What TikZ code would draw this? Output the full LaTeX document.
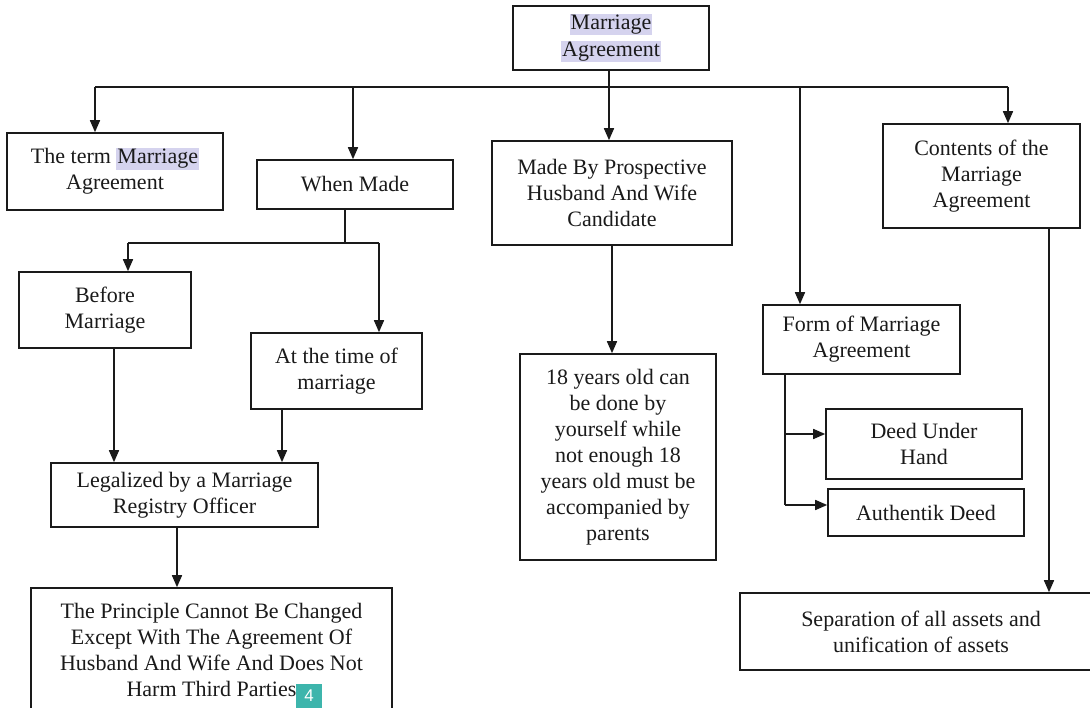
\documentclass[tikz,border=0pt]{standalone}
\usepackage{fontspec}
\setmainfont{Liberation Serif}
\usetikzlibrary{arrows.meta}
\definecolor{ink}{HTML}{1A1A1A}
\definecolor{hl}{HTML}{D5D3EE}
\definecolor{teal}{HTML}{3DB5AC}
\newcommand\hlt[1]{{\setlength{\fboxsep}{1pt}\colorbox{hl}{#1}}}
\begin{document}
\begin{tikzpicture}[x=1pt,y=-1pt,
  box/.style={draw=ink, line width=1.6pt, inner sep=0pt, align=center,
    text=ink, font=\fontsize{22}{26}\selectfont},
  line/.style={draw=ink, line width=1.6pt},
  arr/.style={line, -{Triangle[length=12pt,width=10pt]}}]
\useasboundingbox (0,0) rectangle (1090,708);
\fill[white] (0,0) rectangle (1090,708);
% nodes
\node[box, minimum width=196pt, minimum height=64pt] (root) at (611,38) {\hlt{Marriage}\\[1pt]\hlt{Agreement}\\[-20pt]\mbox{}};
\node[box, minimum width=216pt, minimum height=77pt] (term) at (115,171.5) {The term \hlt{Marriage}\\Agreement};
\node[box, minimum width=196pt, minimum height=49pt] (when) at (355,184.5) {When Made};
\node[box, minimum width=240pt, minimum height=104pt] (madeby) at (612,193) {Made By Prospective\\Husband And Wife\\Candidate};
\node[box, minimum width=197pt, minimum height=104pt] (contents) at (981.5,176) {Contents of the\\Marriage\\Agreement};
\node[box, minimum width=172pt, minimum height=76pt] (before) at (105,310) {Before\\Marriage};
\node[box, minimum width=171pt, minimum height=76pt] (attime) at (336.5,371) {At the time of\\marriage};
\node[box, minimum width=267pt, minimum height=64pt] (legal) at (184.5,495) {Legalized by a Marriage\\Registry Officer};
\node[box, minimum width=361pt, minimum height=124pt] (principle) at (211.5,650) {The Principle Cannot Be Changed\\Except With The Agreement Of\\Husband And Wife And Does Not\\Harm Third Parties};
\node[box, minimum width=196pt, minimum height=206pt] (years) at (618,457) {18 years old can\\be done by\\yourself while\\not enough 18\\years old must be\\accompanied by\\parents};
\node[box, minimum width=197pt, minimum height=69pt] (form) at (861.5,339.5) {Form of Marriage\\Agreement};
\node[box, minimum width=196pt, minimum height=70pt] (deed) at (924,444) {Deed Under\\Hand};
\node[box, minimum width=196pt, minimum height=47pt] (auth) at (926,512.5) {Authentik Deed};
\node[box, minimum width=362pt, minimum height=77pt] (sep) at (921,631.5) {Separation of all assets and\\unification of assets};
\node[fill=teal, text=white, minimum width=26pt, minimum height=24pt, inner sep=0pt,
  font=\fontspec{Liberation Sans}\fontsize{17}{17}\selectfont] (badge) at (309,696) {4};
% bus
\coordinate (b1) at (95,87);
\coordinate (b2) at (353,87);
\coordinate (b3) at (609,87);
\coordinate (b4) at (800,87);
\coordinate (b5) at (1008,87);
\draw[line] (b1) -- (b5);
\draw[line] (root.south -| b3) -- (b3);
\draw[arr] (b1) -- (b1 |- term.north);
\draw[arr] (b2) -- (b2 |- when.north);
\draw[arr] (b3) -- (b3 |- madeby.north);
\draw[arr] (b4) -- (b4 |- form.north);
\draw[arr] (b5) -- (b5 |- contents.north);
% when made branch
\coordinate (w0) at (345,243);
\coordinate (wl) at (128,243);
\coordinate (wr) at (379,243);
\draw[line] (when.south -| w0) -- (w0);
\draw[line] (wl) -- (wr);
\draw[arr] (wl) -- (wl |- before.north);
\draw[arr] (wr) -- (wr |- attime.north);
\coordinate (x1) at (114,0);
\coordinate (x2) at (282,0);
\coordinate (x3) at (177,0);
\draw[arr] (before.south -| x1) -- (legal.north -| x1);
\draw[arr] (attime.south -| x2) -- (legal.north -| x2);
\draw[arr] (legal.south -| x3) -- (principle.north -| x3);
% made by
\draw[arr] (madeby.south) -- (madeby.south |- years.north);
% form
\coordinate (f0) at (785,0);
\coordinate (f1) at (785,434);
\coordinate (f2) at (785,505);
\draw[line] (form.south -| f0) -- (f2);
\draw[arr] (f1) -- (f1 -| deed.west);
\draw[arr] (f2) -- (f2 -| auth.west);
% contents
\coordinate (c0) at (1049,0);
\draw[arr] (contents.south -| c0) -- (sep.north -| c0);
\end{tikzpicture}
\end{document}
